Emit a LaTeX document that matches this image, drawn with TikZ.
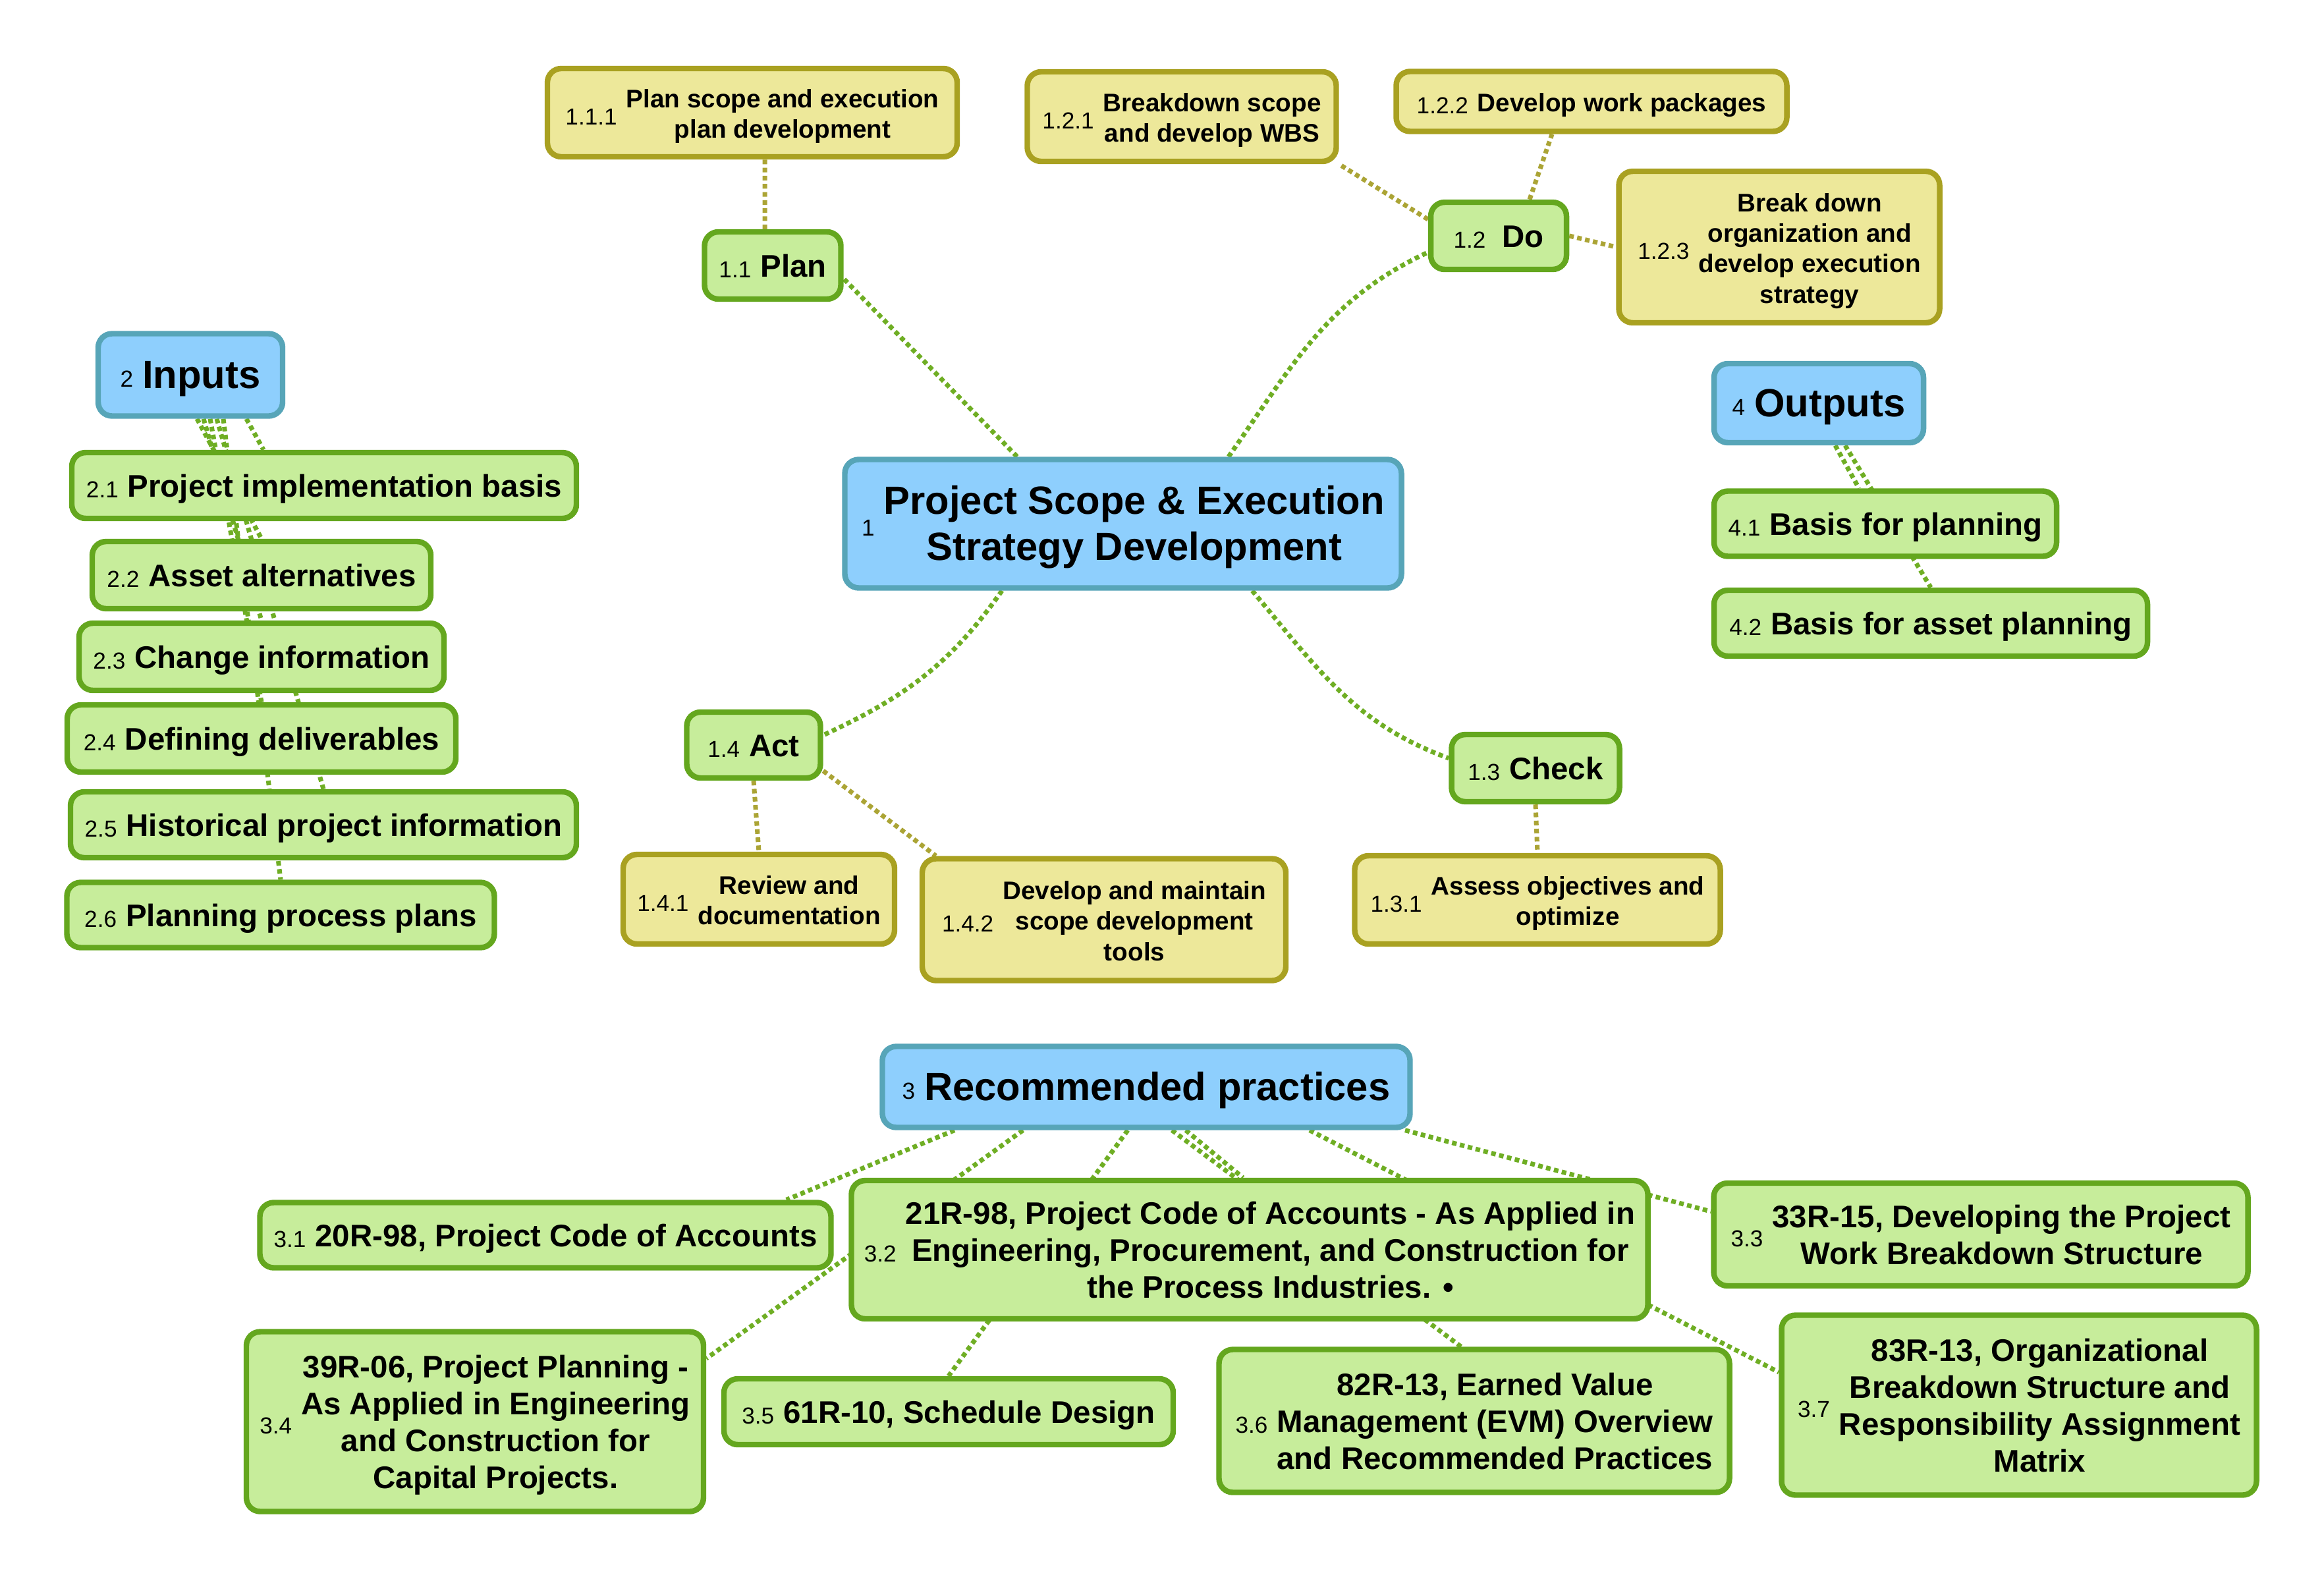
\documentclass[tikz,border=0pt]{standalone}
\usepackage{fontspec}
\setmainfont{Liberation Sans}
\usetikzlibrary{backgrounds}

\definecolor{tblue}{HTML}{8ECFFD}
\definecolor{tblueline}{HTML}{57A5B8}
\definecolor{tgreen}{HTML}{C7ED9B}
\definecolor{tgreenline}{HTML}{64A71E}
\definecolor{tyellow}{HTML}{EDE89A}
\definecolor{tyellowline}{HTML}{A9A121}
\definecolor{tgreenlink}{HTML}{6FAE24}
\definecolor{tolivelink}{HTML}{ABA435}

\newcommand{\numfont}{\mdseries\fontsize{10}{12}\selectfont}
\newcommand{\lbl}[2]{\raisebox{-1.8pt}[\height][\depth]{$\vcenter{\hbox{\numfont #1}}$\hspace{4pt}$\vcenter{\hbox{\begin{tabular}{@{}c@{}}#2\end{tabular}}}$}}

\tikzset{
	box/.style={draw, rounded corners=6pt, line width=2.4pt, align=center, inner sep=2pt},
	topic/.style={box, fill=tblue, draw=tblueline, font=\bfseries\fontsize{17}{20}\selectfont},
	sub/.style={box, fill=tgreen, draw=tgreenline, font=\bfseries\fontsize{13.5}{16}\selectfont},
	leaf/.style={box, fill=tyellow, draw=tyellowline, font=\bfseries\fontsize{11}{13.2}\selectfont},
	link/.style={draw=tgreenlink, line width=2pt, dash pattern=on 2pt off 1.5pt},
	leaflink/.style={link, draw=tolivelink},
}

\begin{document}
\begin{tikzpicture}

	\useasboundingbox (0,0) rectangle (35.28,-23.99);

	% centre
	\node[topic, minimum width=8.45cm, minimum height=1.95cm] (core) at (17.05,-7.95) {\lbl{1}{Project Scope \& Execution\\Strategy Development}};

	% plan
	\node[sub, minimum width=2.07cm, minimum height=1.02cm] (plan) at (11.73,-4.03) {\lbl{1.1}{Plan}};
	\node[leaf, minimum width=6.22cm, minimum height=1.34cm] (p111) at (11.42,-1.71) {\lbl{1.1.1}{Plan scope and execution\\plan development}};

	% do
	\node[sub, minimum width=2.06cm, minimum height=1.02cm] (do) at (22.75,-3.58) {\lbl{1.2}{\hspace{3pt}Do}};
	\node[leaf, minimum width=4.69cm, minimum height=1.36cm] (p121) at (17.94,-1.77) {\lbl{1.2.1}{Breakdown scope\\and develop WBS}};
	\node[leaf, minimum width=5.93cm, minimum height=0.91cm] (p122) at (24.16,-1.54) {\lbl{1.2.2}{Develop work packages}};
	\node[leaf, minimum width=4.87cm, minimum height=2.30cm] (p123) at (27.01,-3.75) {\lbl{1.2.3}{Break down\\organization and\\develop execution\\strategy}};

	% check
	\node[sub, minimum width=2.55cm, minimum height=1.02cm] (check) at (23.31,-11.66) {\lbl{1.3}{Check}};
	\node[leaf, minimum width=5.55cm, minimum height=1.34cm] (p131) at (23.34,-13.66) {\lbl{1.3.1}{Assess objectives and\\optimize}};

	% act
	\node[sub, minimum width=2.03cm, minimum height=1.0cm] (act) at (11.44,-11.31) {\lbl{1.4}{Act}};
	\node[leaf, minimum width=4.12cm, minimum height=1.36cm] (p141) at (11.52,-13.65) {\lbl{1.4.1}{Review and\\documentation}};
	\node[leaf, minimum width=5.52cm, minimum height=1.85cm] (p142) at (16.76,-13.96) {\lbl{1.4.2}{Develop and maintain\\scope development\\tools}};

	% inputs
	\node[topic, minimum width=2.80cm, minimum height=1.25cm] (inputs) at (2.89,-5.69) {\lbl{2}{Inputs}};
	\node[sub, minimum width=7.66cm, minimum height=1.0cm] (in1) at (4.92,-7.37) {\lbl{2.1}{Project implementation basis}};
	\node[sub, minimum width=5.14cm, minimum height=1.02cm] (in2) at (3.97,-8.73) {\lbl{2.2}{Asset alternatives}};
	\node[sub, minimum width=5.54cm, minimum height=1.02cm] (in3) at (3.97,-9.97) {\lbl{2.3}{Change information}};
	\node[sub, minimum width=5.90cm, minimum height=1.02cm] (in4) at (3.97,-11.21) {\lbl{2.4}{Defining deliverables}};
	\node[sub, minimum width=7.68cm, minimum height=1.0cm] (in5) at (4.91,-12.52) {\lbl{2.5}{Historical project information}};
	\node[sub, minimum width=6.49cm, minimum height=0.99cm] (in6) at (4.26,-13.89) {\lbl{2.6}{Planning process plans}};

	% outputs
	\node[topic, minimum width=3.18cm, minimum height=1.20cm] (outputs) at (27.61,-6.12) {\lbl{4}{Outputs}};
	\node[sub, minimum width=5.20cm, minimum height=0.99cm] (out1) at (28.62,-7.95) {\lbl{4.1}{Basis for planning}};
	\node[sub, minimum width=6.58cm, minimum height=1.0cm] (out2) at (29.31,-9.46) {\lbl{4.2}{Basis for asset planning}};

	% recommended practices
	\node[topic, minimum width=8.01cm, minimum height=1.23cm] (rec) at (17.40,-16.50) {\lbl{3}{Recommended practices}};
	\node[sub, minimum width=8.67cm, minimum height=0.99cm] (p31) at (8.28,-18.75) {\lbl{3.1}{20R-98, Project Code of Accounts}};
	\node[sub, minimum width=12.09cm, minimum height=2.10cm] (p32) at (18.97,-18.97) {\lbl{3.2}{21R-98, Project Code of Accounts - As Applied in\\Engineering, Procurement, and Construction for\\the Process Industries. •}};
	\node[sub, minimum width=8.11cm, minimum height=1.56cm] (p33) at (30.07,-18.74) {\lbl{3.3}{33R-15, Developing the Project\\Work Breakdown Structure}};
	\node[sub, minimum width=6.94cm, minimum height=2.73cm] (p34) at (7.21,-21.58) {\lbl{3.4}{39R-06, Project Planning -\\As Applied in Engineering\\and Construction for\\Capital Projects.}};
	\node[sub, minimum width=6.82cm, minimum height=1.0cm] (p35) at (14.40,-21.43) {\lbl{3.5}{61R-10, Schedule Design}};
	\node[sub, minimum width=7.75cm, minimum height=2.17cm] (p36) at (22.38,-21.57) {\lbl{3.6}{82R-13, Earned Value\\Management (EVM) Overview\\and Recommended Practices}};
	\node[sub, minimum width=7.21cm, minimum height=2.73cm] (p37) at (30.65,-21.33) {\lbl{3.7}{83R-13, Organizational\\Breakdown Structure and\\Responsibility Assignment\\Matrix}};

	\begin{scope}[on background layer]
		% main branches
		\draw[link] ([xshift=-1.61cm]core.north) -- ([yshift=-0.2cm]plan.east);
		\draw[link] ([xshift=1.6cm]core.north) to[out=55, in=205] ([yshift=-0.25cm]do.west);
		\draw[link] ([xshift=-1.84cm]core.south) to[out=235, in=25] ([yshift=0.15cm]act.east);
		\draw[link] ([xshift=1.96cm]core.south) to[out=-50, in=160] ([yshift=0.15cm]check.west);

		% leaves
		\draw[leaflink] ([xshift=-0.12cm]plan.north) -- ([xshift=0.19cm]p111.south);
		\draw[leaflink] ([yshift=0.25cm]do.west) -- (p121.south east);
		\draw[leaflink] ([xshift=0.47cm]do.north) -- ([xshift=-0.6cm]p122.south);
		\draw[leaflink] (do.east) -- (p123.west);
		\draw[leaflink] (check.south) -- (p131.north);
		\draw[leaflink] (act.south) -- (p141.north);
		\draw[leaflink] ([yshift=0.15cm]act.south east) -- ([xshift=0.25cm]p142.north west);

		% inputs
		\draw[link] ([xshift=0.85cm]inputs.south) -- ([xshift=-0.92cm]in1.north);
		\foreach \n/\s in {in2/0.1, in3/0.2, in4/0.3, in5/0.4, in6/0.5}{
			\draw[link] ([xshift=\s cm]inputs.south) -- (\n.north);
		}

		% outputs
		\draw[link] ([xshift=0.25cm]outputs.south) -- ([xshift=-0.4cm]out1.north);
		\draw[link] ([xshift=0.4cm]outputs.south) -- (out2.north);

		% practices
		\draw[link] ([xshift=-2.91cm]rec.south) -- ([xshift=-0.72cm]p31.north east);
		\draw[link] ([xshift=-1.87cm]rec.south) -- ([yshift=-0.45cm]p34.north east);
		\draw[link] ([xshift=-0.28cm]rec.south) -- (p35.north);
		\draw[link] ([xshift=0.39cm]rec.south) -- ([xshift=-0.2cm]p36.north);
		\draw[link] ([xshift=0.6cm]rec.south) -- ([xshift=-0.1cm]p32.north);
		\draw[link] ([xshift=2.48cm]rec.south) -- ([yshift=0.5cm]p37.west);
		\draw[link] ([xshift=3.93cm]rec.south) -- ([yshift=0.35cm]p33.west);
	\end{scope}

\end{tikzpicture}
\end{document}
